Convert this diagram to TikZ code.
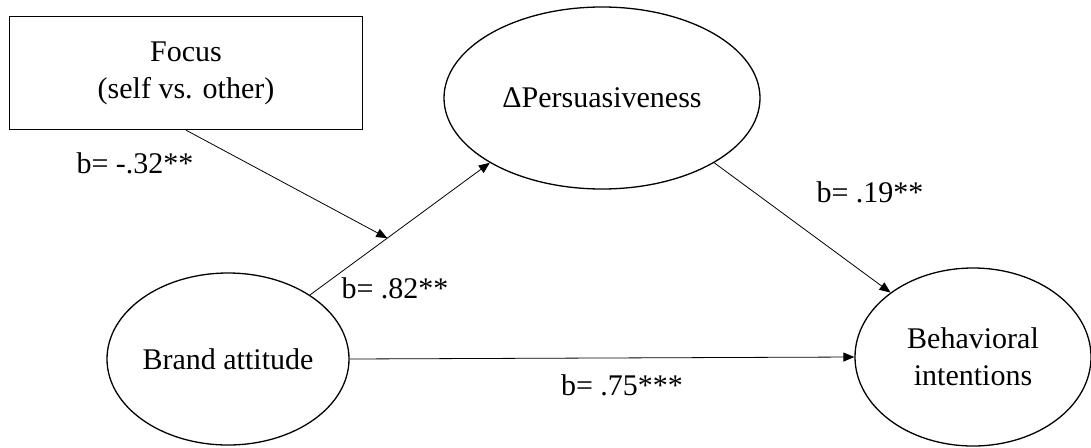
\documentclass[tikz,border=0pt]{standalone}
\usepackage{fontspec}
\setmainfont{Liberation Serif}
\usetikzlibrary{shapes.geometric,arrows.meta}
\begin{document}
\begin{tikzpicture}[x=1pt,y=-1pt,
    every node/.style={font=\fontsize{30}{37}\selectfont, align=center},
    var/.style={ellipse, draw, line width=1.3pt, inner sep=0pt},
    box/.style={rectangle, draw, line width=1.3pt, inner sep=0pt},
    lbl/.style={inner sep=0pt},
    path/.style={line width=0.8pt, -{Triangle[length=11pt,width=9pt]}}]
  \useasboundingbox (0,0) rectangle (1091,447);
  % constructs
  \node[box, minimum width=353pt, minimum height=113pt] (focus) at (186,73) {Focus\\(self vs. other)};
  \node[var, minimum width=316pt, minimum height=182pt] (pers) at (602,98) {ΔPersuasiveness};
  \node[var, minimum width=242pt, minimum height=172pt] (brand) at (228,359) {Brand attitude};
  \node[var, minimum width=236pt, minimum height=178pt] (behav) at (973,357) {Behavioral\\intentions};
  % paths
  \draw[path] (brand.38) -- coordinate[pos=.43] (mod) (pers.210);
  \draw[path] (focus.south) -- (mod);
  \draw[path] (pers.330) -- (behav.142);
  \draw[path] (brand.east) -- (behav.west);
  % coefficients
  \node[lbl] (bfocus) at (135,163) {b= -.32**};
  \node[lbl] (bapath) at (395,288) {b= .82**};
  \node[lbl] (bbpath) at (870,192) {b= .19**};
  \node[lbl] (bcpath) at (622,385) {b= .75***};
\end{tikzpicture}
\end{document}
